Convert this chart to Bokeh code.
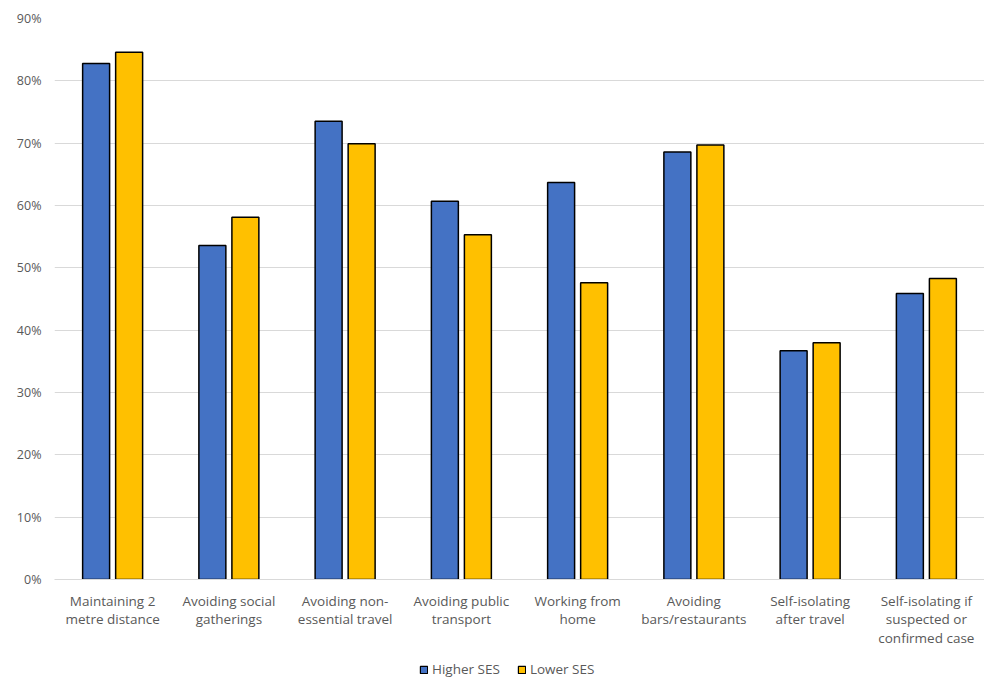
from bokeh.plotting import figure
from bokeh.layouts import column
from bokeh.models import ColumnDataSource, Range1d, FixedTicker, NumeralTickFormatter, Legend, LegendItem
from bokeh.transform import dodge
from bokeh.embed import file_html
from bokeh.resources import INLINE

categories = ["Maintaining 2\nmetre distance", "Avoiding social\ngatherings", "Avoiding non-\nessential travel",
              "Avoiding public\ntransport", "Working from\nhome", "Avoiding\nbars/restaurants",
              "Self-isolating\nafter travel", "Self-isolating if\nsuspected or\nconfirmed case"]
higher_ses = [0.828, 0.536, 0.735, 0.607, 0.637, 0.686, 0.367, 0.459]
lower_ses = [0.846, 0.581, 0.699, 0.553, 0.476, 0.697, 0.380, 0.483]
y_ticks = [0, 0.1, 0.2, 0.3, 0.4, 0.5, 0.6, 0.7, 0.8, 0.9]
series_names = ["Higher SES", "Lower SES"]

FONT = "Open Sans"
TXT = "#595959"
BLUE = "#4472C4"
GOLD = "#FFC000"

pos = [i + 0.5 for i in range(len(categories))]
src = ColumnDataSource(dict(x=pos, hi=higher_ses, lo=lower_ses))

p = figure(width=984, height=660, output_backend="svg", toolbar_location=None,
           x_range=Range1d(0, len(categories)), y_range=Range1d(0, 0.9),
           min_border_left=54, min_border_right=0, min_border_top=18, min_border_bottom=81)
p.outline_line_color = None

p.vbar(x=dodge("x", -0.142, range=p.x_range), top="hi", width=0.232, source=src,
       fill_color=BLUE, line_color="black", line_width=1.5)
p.vbar(x=dodge("x", 0.142, range=p.x_range), top="lo", width=0.232, source=src,
       fill_color=GOLD, line_color="black", line_width=1.5)

p.xaxis.ticker = FixedTicker(ticks=pos)
p.xaxis.major_label_overrides = {pp: c for pp, c in zip(pos, categories)}
p.xaxis.major_tick_line_color = None
p.xaxis.minor_tick_line_color = None
p.xaxis.axis_line_color = "#d9d9d9"
p.xaxis.major_label_text_font = FONT
p.xaxis.major_label_text_font_size = "13.5px"
p.xaxis.major_label_text_color = TXT
p.xaxis.major_label_text_line_height = 1.05
p.xaxis.major_label_standoff = 6
p.xgrid.grid_line_color = None

p.yaxis.ticker = FixedTicker(ticks=y_ticks)
p.yaxis.formatter = NumeralTickFormatter(format="0%")
p.yaxis.axis_line_color = None
p.yaxis.major_tick_line_color = None
p.yaxis.minor_tick_line_color = None
p.yaxis.major_label_text_font = FONT
p.yaxis.major_label_text_font_size = "12.5px"
p.yaxis.major_label_text_color = TXT
p.yaxis.major_label_standoff = 7
p.ygrid.grid_line_color = "#d9d9d9"
p.ygrid.grid_line_width = 1

# legend strip: a second small figure whose bars fall outside its range, so only the legend shows
lf = figure(width=984, height=18, output_backend="svg", toolbar_location=None,
            x_range=Range1d(0, 1), y_range=Range1d(5, 6),
            min_border_left=0, min_border_right=0, min_border_top=0, min_border_bottom=0)
lf.axis.visible = False
lf.grid.grid_line_color = None
lf.outline_line_color = None
l1 = lf.vbar(x="x", top="hi", width=0.1, source=src, fill_color=BLUE, line_color="black", line_width=1.2)
l2 = lf.vbar(x="x", top="lo", width=0.1, source=src, fill_color=GOLD, line_color="black", line_width=1.2)

legend = Legend(items=[LegendItem(label=series_names[0], renderers=[l1]),
                       LegendItem(label=series_names[1], renderers=[l2])],
                orientation="horizontal", location=(365, 0),
                label_text_font=FONT, label_text_font_size="13.5px", label_text_color=TXT,
                glyph_width=9, glyph_height=9, spacing=17, label_standoff=4,
                border_line_color=None, background_fill_alpha=0, margin=0, padding=0,
                label_height=15)
lf.add_layout(legend, "center")

layout = column(p, lf, spacing=0)
open("out.html", "w").write(file_html(layout, INLINE))
